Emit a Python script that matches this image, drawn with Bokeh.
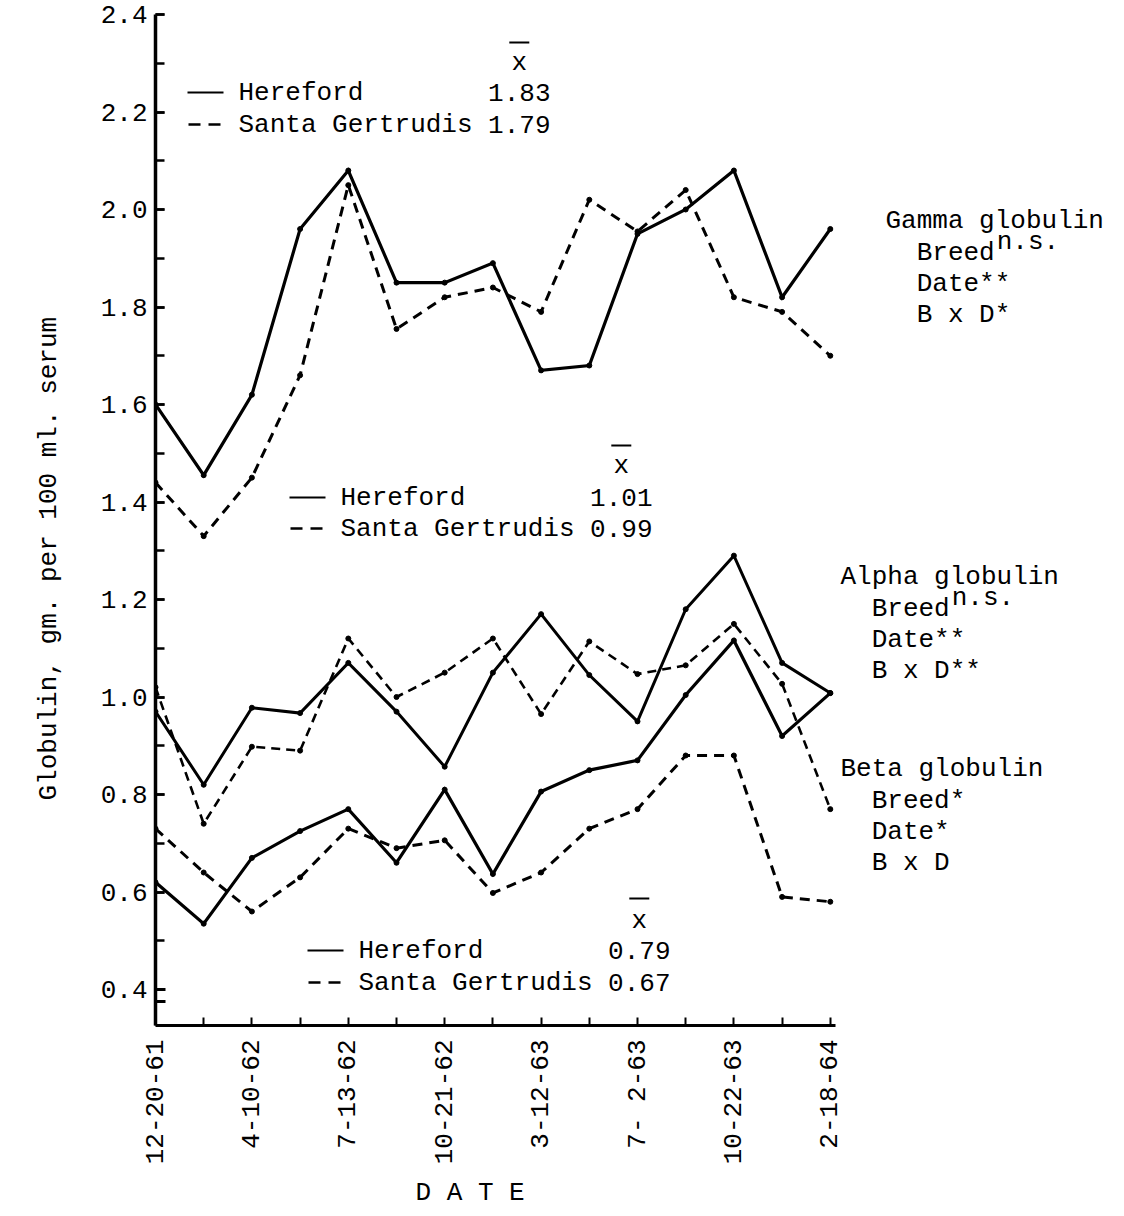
from math import pi
from bokeh.plotting import figure
from bokeh.models import Range1d, FixedTicker, SingleIntervalTicker, Label, NumeralTickFormatter, Title
from bokeh.embed import file_html
from bokeh.resources import INLINE

# ---------------- data ----------------
tick_labels = ["12-20-61", "4-10-62", "7-13-62", "10-21-62", "3-12-63", "7- 2-63", "10-22-63", "2-18-64"]
idx = list(range(15))
gamma_hereford = [1.60, 1.455, 1.62, 1.96, 2.08, 1.85, 1.85, 1.89, 1.67, 1.68, 1.95, 2.00, 2.08, 1.82, 1.96]
gamma_sg = [1.44, 1.33, 1.45, 1.66, 2.05, 1.755, 1.82, 1.84, 1.79, 2.02, 1.955, 2.04, 1.82, 1.79, 1.70]
alpha_hereford = [0.97, 0.82, 0.978, 0.967, 1.07, 0.97, 0.857, 1.05, 1.17, 1.045, 0.95, 1.18, 1.29, 1.07, 1.008]
alpha_sg = [1.02, 0.74, 0.898, 0.89, 1.12, 1.00, 1.05, 1.12, 0.965, 1.114, 1.047, 1.065, 1.15, 1.027, 0.77]
beta_hereford = [0.62, 0.535, 0.67, 0.725, 0.77, 0.66, 0.81, 0.637, 0.806, 0.85, 0.87, 1.004, 1.116, 0.92, 1.008]
beta_sg = [0.73, 0.64, 0.56, 0.63, 0.73, 0.69, 0.706, 0.598, 0.64, 0.73, 0.77, 0.88, 0.88, 0.59, 0.58]
breeds = ["Hereford", "Santa Gertrudis"]
means_gamma = ["1.83", "1.79"]
means_alpha = ["1.01", "0.99"]
means_beta = ["0.79", "0.67"]
stats_gamma = ["Gamma globulin", "Breed", "Date**", "B x D*"]
stats_alpha = ["Alpha globulin", "Breed", "Date**", "B x D**"]
stats_beta = ["Beta globulin", "Breed*", "Date*", "B x D"]
sup_ns = "n.s."
y_title = "Globulin, gm. per 100 ml. serum"
x_title = "D A T E"

# ---------------- layout ----------------
W, H = 1124, 1216
L, T, B = 155, 8, 191
XPX = 48.2          # pixels per date step
YPX = 487.5         # pixels per unit
FONT = "Liberation Mono"
FS = 26
CW = 0.6 * FS
FRAME_BOTTOM = H - B


def dx(px):
    return (px - L) / XPX


def dy(py):
    return 0.4 + (989 - py) / YPX


p = figure(width=W, height=H, output_backend="svg", toolbar_location=None,
           x_range=Range1d(0, dx(W)), y_range=Range1d(dy(FRAME_BOTTOM), dy(T)),
           min_border_left=L, min_border_right=0, min_border_top=T, min_border_bottom=B)
p.outline_line_color = None
p.xgrid.visible = False
p.ygrid.visible = False
p.background_fill_color = "white"
p.border_fill_color = "white"

# x axis
xa = p.xaxis[0]
xa.ticker = FixedTicker(ticks=[0, 2, 4, 6, 8, 10, 12, 14], minor_ticks=[1, 3, 5, 7, 9, 11, 13])
xa.major_label_overrides = {i * 2: t for i, t in enumerate(tick_labels)}
xa.bounds = (0, 14.1)
xa.major_label_orientation = pi / 2
xa.axis_line_width = 3
xa.major_tick_in = 8
xa.major_tick_out = 0
xa.minor_tick_in = 8
xa.minor_tick_out = 0
xa.major_tick_line_width = 2
xa.minor_tick_line_width = 2
xa.major_label_standoff = 14
xa.major_label_text_font = FONT
xa.major_label_text_font_size = f"{FS}px"
xa.major_label_text_color = "black"

# y axis
ya = p.yaxis[0]
ya.ticker = SingleIntervalTicker(interval=0.2, num_minor_ticks=2)
ya.formatter = NumeralTickFormatter(format="0.0")
ya.bounds = (dy(FRAME_BOTTOM), 2.401)
ya.axis_line_width = 3.5
ya.major_tick_in = 9
ya.major_tick_out = 0
ya.minor_tick_in = 9
ya.minor_tick_out = 0
ya.major_tick_line_width = 2.5
ya.minor_tick_line_width = 2.5
ya.major_label_standoff = 8
ya.major_label_text_font = FONT
ya.major_label_text_font_size = f"{FS}px"
ya.major_label_text_color = "black"

# axis titles as side titles (positionable)
p.add_layout(Title(text=x_title, align="left", offset=260, text_font=FONT, text_color="black",
                   text_font_size=f"{FS}px", text_font_style="normal", standoff=16), "below")
p.add_layout(Title(text=y_title, align="left", offset=225, text_font=FONT, text_color="black",
                   text_font_size=f"{FS}px", text_font_style="normal", standoff=64,
                   vertical_align="top"), "left")

# ---------------- data lines ----------------
series = [
    (gamma_hereford, "solid", 3.2),
    (gamma_sg, "10 7", 3.0),
    (alpha_hereford, "solid", 3.0),
    (alpha_sg, "9 6", 2.6),
    (beta_hereford, "solid", 3.2),
    (beta_sg, "10 7", 3.0),
]
for vals, dash, lw in series:
    p.line(idx, vals, line_color="black", line_width=lw, line_dash=dash, line_join="miter")
    p.scatter(idx, vals, size=5, color="black")

# ---------------- legends ----------------
def label(px, py, text, align="left", angle=0.0, size=FS, style="normal"):
    p.add_layout(Label(x=dx(px), y=dy(py), text=text, text_font=FONT,
                       text_font_size=f"{size}px", text_align=align, text_baseline="middle",
                       angle=angle, text_color="black", text_font_style=style))


def legend_block(x_text, y_bar, y_x, y_h, y_s, means):
    mcol = x_text + 16 * CW
    xc = x_text + 18 * CW
    p.segment(x0=[dx(xc - 10)], y0=[dy(y_bar)], x1=[dx(xc + 10)], y1=[dy(y_bar)],
              line_color="black", line_width=2)
    label(xc, y_x, "x", align="center")
    p.segment(x0=[dx(x_text - 51)], y0=[dy(y_h)], x1=[dx(x_text - 15)], y1=[dy(y_h)],
              line_color="black", line_width=2)
    p.segment(x0=[dx(x_text - 50)], y0=[dy(y_s)], x1=[dx(x_text - 16)], y1=[dy(y_s)],
              line_color="black", line_width=2.5, line_dash="12 8")
    label(x_text, y_h, breeds[0])
    label(x_text, y_s, breeds[1])
    label(mcol, y_h, means[0])
    label(mcol, y_s, means[1])


legend_block(238, 42, 62, 92, 124, means_gamma)
legend_block(340, 445, 465, 497, 528, means_alpha)
legend_block(358, 898, 920, 950, 982, means_beta)


def stats_block(x_title, y_title, lines, ns):
    label(x_title, y_title, lines[0])
    x_sub = x_title + 2 * CW
    for i, t in enumerate(lines[1:]):
        label(x_sub, y_title + 32 + i * 31, t)
    if ns:
        label(x_sub + 5 * CW + 2, y_title + 21, sup_ns)


stats_block(885, 220, stats_gamma, True)
stats_block(840, 576, stats_alpha, True)
stats_block(840, 768, stats_beta, False)

# axis break mark on the y axis (two short strokes)
p.segment(x0=[0, 0], y0=[dy(989), dy(1001)], x1=[dx(165), dx(165)], y1=[dy(989), dy(1001)],
          line_color="black", line_width=3)

open("out.html", "w").write(file_html(p, INLINE))
